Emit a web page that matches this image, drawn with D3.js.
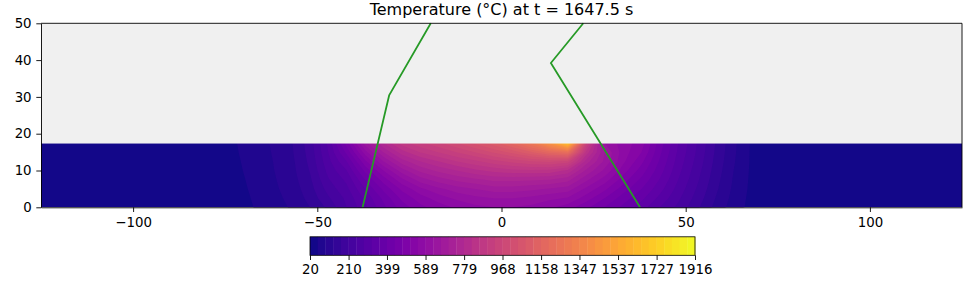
<!DOCTYPE html>
<html><head><meta charset="utf-8">
<script src="https://cdn.jsdelivr.net/npm/d3@7"></script>
<style>
body{margin:0;background:#fff;}
svg{display:block;font-family:"DejaVu Sans",sans-serif;}
</style>
</head><body>
<svg id="chart" width="976" height="293"></svg>
<script>
// ---------- data ----------
const titleText = "Temperature (°C) at t = 1647.5 s";
const xTicks = [-100, -50, 0, 50, 100];
const yTicks = [0, 10, 20, 30, 40, 50];
const cbTicks = [20, 210, 399, 589, 779, 968, 1158, 1347, 1537, 1727, 1916];
const tMin = 20, tMax = 1916, nLevels = 50;
const plateThickness = 17.4;
// grid columns (x, mm) and rows (y, mm) of the temperature field
const gridX = [-77,-72,-67,-62,-57,-52,-47,-42,-37,-32,-27,-22,-17,-12,-7,-2,3,8,13,18,23,28,33,38,43,48,53,58,63,68,73];
const gridY = [0, 2.486, 4.971, 7.457, 9.943, 12.429, 14.914, 17.4];
// temperature (°C), one row per gridY value (bottom -> top surface)
const tempRow0 = [20,30,60,80,100,134,181,248,314,390,456,503,532,560,579,589,589,579,560,532,485,437,390,342,285,238,181,124,77,45,20];
const tempRow1 = [20,36,64,84,106,146,204,257,333,409,485,532,570,598,617,627,627,617,598,585,532,475,418,371,312,255,195,134,83,46,20];
const tempRow2 = [20,41,68,88,112,156,225,276,361,447,522,579,617,646,665,684,684,674,660,645,579,522,456,399,337,271,207,143,88,48,20];
const tempRow3 = [20,45,71,91,117,165,244,295,399,494,579,646,684,712,731,750,750,745,740,715,636,570,494,428,358,285,218,150,92,49,20];
const tempRow4 = [20,49,74,94,121,174,260,323,447,551,646,712,750,778,807,826,840,845,840,805,693,617,532,456,377,297,227,157,96,50,20];
const tempRow5 = [20,52,76,96,124,181,274,361,503,627,722,778,816,854,883,915,940,965,975,950,760,655,560,485,393,307,236,163,100,51,20];
const tempRow6 = [20,55,78,98,128,186,286,409,570,703,797,854,892,930,968,1010,1055,1110,1170,1210,840,665,570,513,407,316,243,168,103,51,20];
const tempRow7 = [20,57,80,100,130,191,295,456,646,778,873,921,959,1006,1053,1105,1170,1270,1430,1660,940,627,570,532,418,323,248,172,105,52,20];
const tempRows = [tempRow0,tempRow1,tempRow2,tempRow3,tempRow4,tempRow5,tempRow6,tempRow7];
// green boundary lines (x, y)
const leftLineX = [-37.7, -30.5, -19.2];
const leftLineY = [0, 30.4, 50];
const rightLineX = [37.6, 13.4, 22.2];
const rightLineY = [0, 39.2, 50];

// ---------- drawing ----------
const svg = d3.select("#chart");
const FONT = "DejaVu Sans, sans-serif";
const x = d3.scaleLinear().domain([-125, 125]).range([41, 962]);
const y = d3.scaleLinear().domain([0, 50]).range([207.3, 23.3]);

const levels = d3.range(nLevels + 1).map(k => tMin + k * (tMax - tMin) / nLevels);
const cnorm = d3.scaleLinear().domain([tMin, tMax]).range([0, 1]);
const bandColor = k => d3.interpolatePlasma(cnorm((levels[k] + levels[k + 1]) / 2));

// axes background
svg.append("rect")
  .attr("x", x(-125)).attr("y", y(50))
  .attr("width", x(125) - x(-125)).attr("height", y(0) - y(50))
  .attr("fill", "#f0f0f0");

// plate content (defined once, shown through two clips)
const defs = svg.append("defs");
const plateTopPx = Math.round(y(plateThickness));
defs.append("clipPath").attr("id", "plateClip").append("rect")
  .attr("x", x(-125)).attr("y", plateTopPx + 1)
  .attr("width", x(125) - x(-125)).attr("height", y(0) - plateTopPx - 1);
defs.append("clipPath").attr("id", "edgeClip").append("rect")
  .attr("x", x(-125)).attr("y", plateTopPx)
  .attr("width", x(125) - x(-125)).attr("height", 1);

const plate = defs.append("g").attr("id", "plateInner");
plate.append("rect")
  .attr("x", x(-125)).attr("y", y(plateThickness) - 2)
  .attr("width", x(125) - x(-125)).attr("height", y(0) - y(plateThickness) + 2)
  .attr("fill", bandColor(0));

const nx = gridX.length, ny = gridY.length;
const values = [];
for (let j = 0; j < ny; j++) for (let i = 0; i < nx; i++) values.push(tempRows[j][i]);
const dxStep = gridX[1] - gridX[0];
const dyStep = plateThickness / (ny - 1);
const proj = d3.geoTransform({
  point(u, v) {
    this.stream.point(x(gridX[0] + (u - 0.5) * dxStep), y(gridY[0] + (v - 0.5) * dyStep));
  }
});
const path = d3.geoPath(proj);
const cs = d3.contours().size([nx, ny]).thresholds(levels.slice(1, nLevels))(values);
plate.selectAll("path.band").data(cs).join("path")
  .attr("class", "band")
  .attr("d", path)
  .attr("fill", (d, i) => bandColor(i + 1));

svg.append("use").attr("href", "#plateInner").attr("clip-path", "url(#plateClip)");
svg.append("use").attr("href", "#plateInner").attr("clip-path", "url(#edgeClip)").attr("opacity", 0.45);

// green lines
const line = d3.line().x(d => x(d[0])).y(d => y(d[1]));
const lines = [d3.zip(leftLineX, leftLineY), d3.zip(rightLineX, rightLineY)];
svg.append("g").selectAll("path").data(lines).join("path")
  .attr("d", line)
  .attr("fill", "none")
  .attr("stroke", "#269a26")
  .attr("stroke-width", 1.75);

// axes
function styleAxis(g) {
  g.attr("font-family", FONT).attr("font-size", 13.33);
  g.selectAll("text").attr("fill", "#000");
  g.selectAll("line").attr("stroke", "#000").attr("stroke-width", 0.9);
  g.select(".domain").attr("stroke", "#000").attr("stroke-width", 0.9);
}
const xAxis = svg.append("g").attr("transform", `translate(0,${y(0)})`)
  .call(d3.axisBottom(x).tickValues(xTicks).tickSize(4.7).tickPadding(5.2).tickSizeOuter(0));
styleAxis(xAxis);
const yAxis = svg.append("g").attr("transform", `translate(${x(-125)},0)`)
  .call(d3.axisLeft(y).tickValues(yTicks).tickSize(4.7).tickPadding(4.7).tickSizeOuter(0));
styleAxis(yAxis);

// top and right spines
svg.append("line").attr("x1", x(-125)).attr("x2", x(125)).attr("y1", y(50)).attr("y2", y(50))
  .attr("stroke", "#000").attr("stroke-width", 0.9);
svg.append("line").attr("x1", x(125)).attr("x2", x(125)).attr("y1", y(50)).attr("y2", y(0))
  .attr("stroke", "#000").attr("stroke-width", 0.9);

// title
svg.append("text")
  .attr("x", (x(-125) + x(125)) / 2).attr("y", 14.5)
  .attr("text-anchor", "middle")
  .attr("font-family", FONT).attr("font-size", 16)
  .attr("fill", "#000")
  .text(titleText);

// colorbar
const cbX = d3.scaleLinear().domain([tMin, tMax]).range([310, 695]);
const cbTop = 236.8, cbBottom = 255.3;
const cb = svg.append("g");
cb.selectAll("rect").data(d3.range(nLevels)).join("rect")
  .attr("x", k => cbX(levels[k]))
  .attr("width", k => cbX(levels[k + 1]) - cbX(levels[k]) + 0.4)
  .attr("y", cbTop).attr("height", cbBottom - cbTop)
  .attr("fill", k => bandColor(k));
cb.append("rect")
  .attr("x", cbX(tMin)).attr("y", cbTop)
  .attr("width", cbX(tMax) - cbX(tMin)).attr("height", cbBottom - cbTop)
  .attr("fill", "none").attr("stroke", "#000").attr("stroke-width", 0.8);
const cbAxis = svg.append("g").attr("transform", `translate(0,${cbBottom})`)
  .call(d3.axisBottom(cbX).tickValues(cbTicks).tickFormat(d3.format("d")).tickSize(4.7).tickPadding(4.8).tickSizeOuter(0));
styleAxis(cbAxis);
cbAxis.select(".domain").remove();
</script>
</body></html>
